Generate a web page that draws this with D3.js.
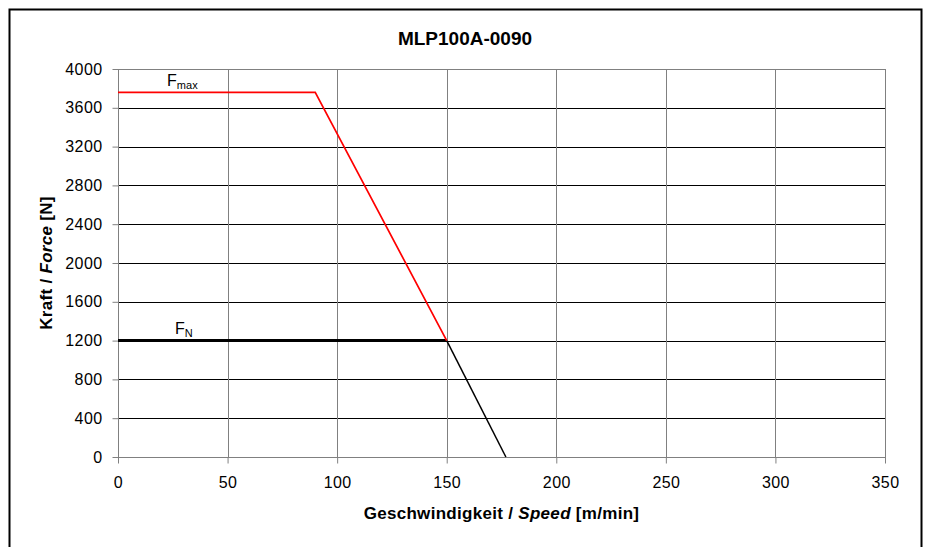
<!DOCTYPE html>
<html>
<head>
<meta charset="utf-8">
<script src="https://cdn.jsdelivr.net/npm/d3@7"></script>
<style>
  body { margin: 0; background: #fff; }
  svg text { font-family: "Liberation Sans", Arial, sans-serif; fill: #000; }
</style>
</head>
<body>
<div id="chart"></div>
<script>
// curve points
var fmaxSpeed = [0, 90, 150];
var fmaxForce = [3760, 3760, 1200];
var fnSpeed = [0, 150];
var fnForce = [1200, 1200];
var fdropSpeed = [150, 177];
var fdropForce = [1200, 0];
var xTicks = [0, 50, 100, 150, 200, 250, 300, 350];
var yTicks = [0, 400, 800, 1200, 1600, 2000, 2400, 2800, 3200, 3600, 4000];

var width = 928, height = 547;
var margin = {left: 118, right: 43, top: 69, bottom: 90};
var fontFam = "'Liberation Sans', Arial, sans-serif";

var svg = d3.select("#chart").append("svg")
  .attr("width", width).attr("height", height);

// outer frame
svg.append("rect").attr("x", 9.5).attr("y", 9.5)
  .attr("width", 912).attr("height", 560)
  .attr("fill", "#fff").attr("stroke", "#000").attr("stroke-width", 2);

var x = d3.scaleLinear().domain([0, 350]).range([margin.left, width - margin.right]);
var y = d3.scaleLinear().domain([0, 4000]).range([height - margin.bottom, margin.top]);

// horizontal grid
svg.append("g").selectAll("line").data(yTicks).enter().append("line")
  .attr("x1", x(0)).attr("x2", x(350))
  .attr("y1", d => Math.round(y(d)) + 0.5).attr("y2", d => Math.round(y(d)) + 0.5)
  .attr("stroke", "#000").attr("stroke-width", 1);

// vertical grid
svg.append("g").selectAll("line").data(xTicks).enter().append("line")
  .attr("y1", y(0)).attr("y2", y(4000))
  .attr("x1", d => Math.round(x(d)) + 0.5).attr("x2", d => Math.round(x(d)) + 0.5)
  .attr("stroke", "#808080").attr("stroke-width", 1);

// plot frame
svg.append("rect")
  .attr("x", Math.round(x(0)) + 0.5).attr("y", Math.round(y(4000)) + 0.5)
  .attr("width", Math.round(x(350)) - Math.round(x(0)))
  .attr("height", Math.round(y(0)) - Math.round(y(4000)))
  .attr("fill", "none").attr("stroke", "#808080");

var xAxis = d3.axisBottom(x).tickValues(xTicks).tickSize(6).tickPadding(13).tickFormat(d3.format("d"));
var yAxis = d3.axisLeft(y).tickValues(yTicks).tickSize(6).tickPadding(10).tickFormat(d3.format("d"));

var gx = svg.append("g").attr("transform", "translate(0," + (Math.round(y(0)) + 0.5) + ")").call(xAxis);
var gy = svg.append("g").attr("transform", "translate(" + (Math.round(x(0)) + 0.5) + ",0)").call(yAxis);
[gx, gy].forEach(function(g) {
  g.select(".domain").remove();
  g.selectAll("line").attr("stroke", "#808080");
  g.selectAll("text").style("font-size", "16px").style("font-family", fontFam)
    .style("letter-spacing", "0.4px").attr("fill", "#000");
});

var line = d3.line().x(d => x(d[0])).y(d => y(d[1]));
function pts(xs, ys) { return xs.map((v, i) => [v, ys[i]]); }

svg.append("path").datum(pts(fnSpeed, fnForce)).attr("d", line)
  .attr("fill", "none").attr("stroke", "#000").attr("stroke-width", 3);
svg.append("path").datum(pts(fdropSpeed, fdropForce)).attr("d", line)
  .attr("fill", "none").attr("stroke", "#000").attr("stroke-width", 1.5);
svg.append("path").datum(pts(fmaxSpeed, fmaxForce)).attr("d", line)
  .attr("fill", "none").attr("stroke", "#ff0000").attr("stroke-width", 1.7);

// curve labels
function curveLabel(xv, yv, sub) {
  var t = svg.append("text").attr("x", x(xv)).attr("y", y(yv)).style("font-size", "16px");
  t.append("tspan").attr("fill", "#000").text("F");
  t.append("tspan").attr("dy", 3).attr("fill", "#000").style("font-size", "11px").text(sub);
}
curveLabel(22.4, 3760 + 62, "max");
curveLabel(26, 1200 + 65, "N");

// title
svg.append("text").attr("x", 465).attr("y", 45).attr("text-anchor", "middle")
  .style("font-size", "19px").style("font-weight", "bold").text("MLP100A-0090");

// x title
var xt = svg.append("text").attr("x", (x(0) + x(350)) / 2).attr("y", 519)
  .attr("text-anchor", "middle").style("font-size", "17px").style("font-weight", "bold")
  .style("letter-spacing", "0.3px");
xt.append("tspan").text("Geschwindigkeit / ");
xt.append("tspan").style("font-style", "italic").text("Speed");
xt.append("tspan").text("  [m/min]");

// y title
var yt = svg.append("text").attr("transform", "translate(52," + y(2000) + ") rotate(-90)")
  .attr("text-anchor", "middle").style("font-size", "17px").style("font-weight", "bold")
  .style("letter-spacing", "0.3px");
yt.append("tspan").text("Kraft / ");
yt.append("tspan").style("font-style", "italic").text("Force");
yt.append("tspan").text("  [N]");
</script>
</body>
</html>
